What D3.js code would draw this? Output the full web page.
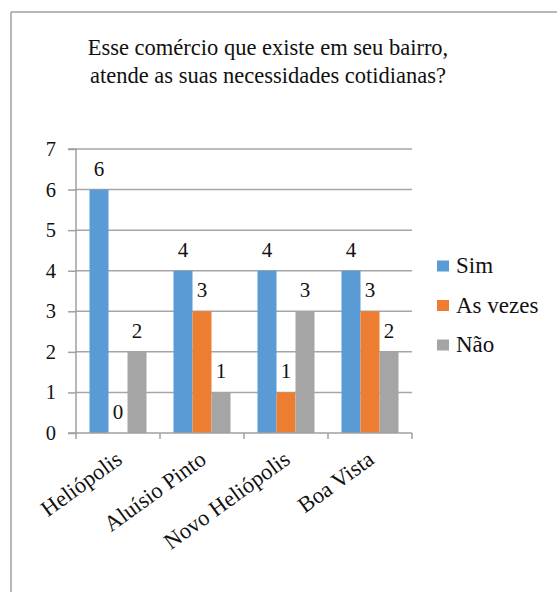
<!DOCTYPE html>
<html>
<head>
<meta charset="utf-8">
<script src="https://cdn.jsdelivr.net/npm/d3@7"></script>
<style>
  html, body { margin: 0; padding: 0; background: #fff; }
  svg { display: block; }
</style>
</head>
<body>
<script>
const titleLines = ["Esse comércio que existe em seu bairro,", "atende as suas necessidades cotidianas?"];
const categories = ["Heliópolis", "Aluísio Pinto", "Novo Heliópolis", "Boa Vista"];
const seriesNames = ["Sim", "As vezes", "Não"];
const sim = [6, 4, 4, 4];
const asVezes = [0, 3, 1, 3];
const nao = [2, 1, 3, 2];
const yTicks = [0, 1, 2, 3, 4, 5, 6, 7];
const colors = ["#5B9BD5", "#ED7D31", "#A5A5A5"];

const FONT = "'Liberation Serif', 'Times New Roman', Tinos, 'DejaVu Serif', serif";
const seriesValues = [sim, asVezes, nao];
const W = 557, H = 592;
const svg = d3.select("body").append("svg").attr("width", W).attr("height", H)
  .attr("font-family", FONT).style("font-family", FONT);

// frame
svg.append("line").attr("x1", 11).attr("x2", W).attr("y1", 12).attr("y2", 12)
  .attr("stroke", "#a0a0a0").attr("stroke-width", 1.5);
svg.append("line").attr("x1", 11).attr("x2", 11).attr("y1", 12).attr("y2", H)
  .attr("stroke", "#a0a0a0").attr("stroke-width", 1.5);

function txt(sel) { return sel.style("font-family", FONT).attr("fill", "#111"); }

// title
txt(svg.append("g").selectAll("text").data(titleLines).join("text"))
  .attr("x", 268).attr("y", (d, i) => 55 + i * 28)
  .attr("text-anchor", "middle").style("font-size", "22.5px").text(d => d);

const x = d3.scaleBand().domain(categories).range([76, 412]);
const xs = d3.scaleBand().domain(seriesNames).range([13.5, 70.5]);
const y = d3.scaleLinear().domain([0, 7]).range([433, 149]);

// gridlines
svg.append("g").selectAll("line").data(yTicks.filter(t => t > 0)).join("line")
  .attr("x1", 76).attr("x2", 412).attr("y1", d => y(d)).attr("y2", d => y(d))
  .attr("stroke", "#a6a6a6").attr("stroke-width", 1.5);

// y axis
const yAxis = svg.append("g").attr("transform", "translate(76,0)")
  .call(d3.axisLeft(y).tickValues(yTicks).tickSize(8).tickPadding(12).tickFormat(d3.format("d")));
yAxis.attr("font-family", null).attr("font-size", null);
yAxis.selectAll("path,line").attr("stroke", "#a0a0a0").attr("stroke-width", 1.5);
yAxis.select(".domain").attr("d", `M-8,${y(7)}H0V${y(0)}H-8`);
txt(yAxis.selectAll("text")).style("font-size", "20.5px");

// bars
const data = [];
categories.forEach((c, ci) => seriesNames.forEach((s, si) => data.push({ c, s, si, v: seriesValues[si][ci] })));
svg.append("g").selectAll("rect").data(data).join("rect")
  .attr("x", d => x(d.c) + xs(d.s)).attr("width", xs.bandwidth())
  .attr("y", d => y(d.v)).attr("height", d => y(0) - y(d.v))
  .attr("fill", d => colors[d.si]);

// value labels
txt(svg.append("g").selectAll("text").data(data).join("text"))
  .attr("x", d => x(d.c) + xs(d.s) + xs.bandwidth() / 2)
  .attr("y", d => y(d.v) - 14)
  .attr("text-anchor", "middle").style("font-size", "21px").text(d => d.v);

// x axis
const xAxis = svg.append("g").attr("transform", `translate(0,${y(0)})`);
xAxis.append("path").attr("d", `M${x.range()[0]},0H${x.range()[1]}`).attr("stroke", "#a0a0a0").attr("stroke-width", 1.5);
const tickPos = [...categories.map(c => x(c)), x.range()[1]];
xAxis.selectAll("line.tk").data(tickPos).join("line").attr("class", "tk")
  .attr("x1", d => d).attr("x2", d => d).attr("y1", 0).attr("y2", 6)
  .attr("stroke", "#a0a0a0").attr("stroke-width", 1.5);

txt(svg.append("g").selectAll("text").data(categories).join("text"))
  .attr("transform", d => `translate(${x(d) + x.bandwidth() / 2 + 1},${y(0) + 23}) rotate(-36)`)
  .attr("text-anchor", "end").attr("dy", "0.35em").style("font-size", "22.5px").text(d => d);

// legend
const lg = svg.append("g").selectAll("g").data(seriesNames).join("g")
  .attr("transform", (d, i) => `translate(437,${266 + i * 39.5})`);
lg.append("rect").attr("x", 0).attr("y", -5.5).attr("width", 12).attr("height", 11)
  .attr("fill", (d, i) => colors[i]);
txt(lg.append("text")).attr("x", 19).attr("y", 7).style("font-size", "23px").text(d => d);
</script>
</body>
</html>
